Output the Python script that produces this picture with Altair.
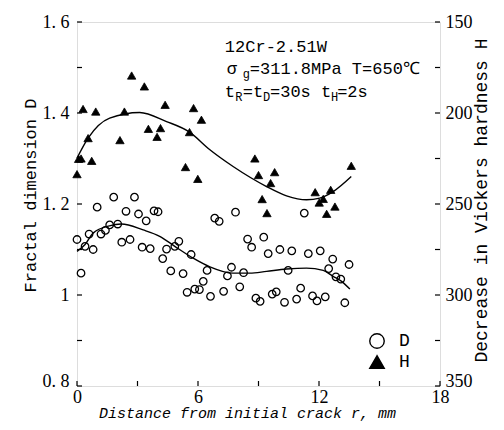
import altair as alt
import pandas as pd

# ---------------- data ----------------
# Fractal dimension D (circles): distance r [mm], value
d_r = [0.0, 0.2, 0.4, 0.6, 0.8, 1.0, 1.19, 1.41, 1.62, 1.82, 2.02, 2.22, 2.43, 2.63, 2.85,
       3.05, 3.23, 3.43, 3.63, 3.82, 4.02, 4.25, 4.44, 4.65, 4.85, 5.05, 5.26, 5.46, 5.66,
       5.84, 6.07, 6.26, 6.45, 6.62, 6.83, 7.05, 7.27, 7.46, 7.66, 7.86, 8.07, 8.26, 8.46,
       8.66, 8.87, 9.08, 9.26, 9.48, 9.68, 9.88, 10.06, 10.29, 10.47, 10.65, 10.89, 11.09,
       11.27, 11.47, 11.68, 11.9, 12.06, 12.31, 12.48, 12.68, 12.84, 13.08, 13.28, 13.49]
d_val = [1.122, 1.048, 1.107, 1.134, 1.100, 1.193, 1.134, 1.142, 1.154, 1.215, 1.156, 1.116,
         1.184, 1.122, 1.215, 1.178, 1.105, 1.163, 1.102, 1.185, 1.183, 1.080, 1.101, 1.053,
         1.107, 1.118, 1.047, 1.006, 1.089, 1.013, 1.012, 1.030, 1.054, 0.997, 1.169, 1.162,
         1.008, 1.042, 1.061, 1.182, 1.018, 1.049, 1.123, 1.105, 0.993, 0.986, 1.127, 1.091,
         1.002, 1.007, 1.100, 0.984, 1.054, 1.097, 0.991, 1.015, 1.180, 1.091, 0.998, 0.987,
         1.097, 0.996, 1.058, 1.079, 1.040, 1.035, 0.983, 1.067]

# Decrease in Vickers hardness H (triangles)
h_r = [0.0, 0.08, 0.2, 0.3, 0.55, 0.73, 0.93, 2.13, 2.35, 2.71, 3.34, 3.54, 3.97, 4.14, 4.37,
       5.38, 5.58, 5.78, 5.99, 6.17, 8.82, 9.0, 9.18, 9.42, 9.6, 9.8, 11.81, 12.01, 12.21,
       12.38, 12.58, 12.79, 13.6]
h_val = [233.6, 225.2, 225.0, 197.8, 213.8, 226.3, 199.2, 214.9, 199.2, 179.4, 185.4, 208.7,
         213.1, 208.3, 195.5, 229.7, 210.5, 197.3, 236.2, 203.7, 225.0, 234.1, 247.3, 255.0,
         238.5, 232.5, 243.5, 249.2, 247.2, 255.4, 242.2, 251.4, 229.0]

# fitted curves
d_fit_r = [0.0, 0.4, 0.8, 1.6, 2.2, 3.28, 4.1, 4.85, 5.76, 6.59, 7.74, 8.57, 9.4, 10.39,
           11.38, 12.21, 12.7, 13.12, 13.53]
d_fit_val = [1.096, 1.111, 1.136, 1.152, 1.156, 1.143, 1.129, 1.107, 1.081, 1.062, 1.048,
             1.048, 1.052, 1.057, 1.059, 1.054, 1.041, 1.030, 1.013]
h_fit_r = [0.0, 0.55, 1.62, 3.11, 4.44, 5.58, 6.59, 7.74, 9.4, 10.39, 11.38, 12.04, 12.7, 13.6]
h_fit_val = [224.8, 213.8, 202.8, 199.7, 204.7, 210.5, 220.2, 229.4, 240.4, 245.5, 247.7,
             246.8, 243.2, 234.9]

# tick values
x_ticks = [0, 3, 6, 9, 12, 15, 18]
d_ticks = [0.8, 0.9, 1.0, 1.1, 1.2, 1.3, 1.4, 1.5, 1.6]
h_ticks = [150, 175, 200, 225, 250, 275, 300, 325, 350]

# annotation (placed in data units: r [mm], D)
ann_text = ["12Cr-2.51W", "σ", "g", "=311.8MPa T=650℃", "t", "R", "=t", "D", "=30s t", "H", "=2s"]
ann_r = [7.33, 7.43, 8.22, 8.57, 7.33, 7.85, 8.22, 9.22, 9.57, 12.6, 12.9]
ann_d = [1.5457, 1.4974, 1.4864, 1.4974, 1.4468, 1.4358, 1.4468, 1.4358, 1.4468, 1.4358, 1.4468]
ann_size = [17, 17, 12, 17, 17, 12, 17, 12, 17, 12, 17]

# ---------------- tables ----------------
df_d = pd.DataFrame({"r": d_r, "val": d_val, "series": "D"})
df_h = pd.DataFrame({"r": h_r, "val": h_val, "series": "H"})
df_dfit = pd.DataFrame({"r": d_fit_r, "val": d_fit_val})
df_hfit = pd.DataFrame({"r": h_fit_r, "val": h_fit_val})
df_ann = pd.DataFrame({"r": ann_r, "val": ann_d, "t": ann_text, "sz": ann_size})
df_xt = pd.DataFrame({"r": x_ticks})
df_dt = pd.DataFrame({"val": d_ticks})
df_ht = pd.DataFrame({"val": h_ticks})

W, H = 363, 364
TL = 5  # inward tick length

x_scale = alt.Scale(domain=[0, 18], nice=False, zero=False)
d_scale = alt.Scale(domain=[0.8, 1.6], nice=False, zero=False)
h_scale = alt.Scale(domain=[150, 350], nice=False, zero=False, reverse=True)

common_axis = dict(
    domain=False, ticks=False, tickSize=0, grid=False, labelColor="black", titleColor="black",
    labelFont="Liberation Serif", labelFontSize=18, titleFont="Liberation Mono",
    titleFontWeight="normal", labelFlush=False, labelOverlap=False,
)

x_axis = alt.Axis(
    values=x_ticks, labelExpr="datum.value % 6 == 0 ? datum.label : ''",
    title="Distance from initial crack r, mm", titleFontSize=15, titleFontStyle="italic",
    titleX=170, titleY=26, titleBaseline="middle", titleAlign="center",
    labelPadding=2, labelBaseline="top", **common_axis)

left_axis = alt.Axis(
    values=d_ticks,
    labelExpr="round(datum.value*10) % 2 == 0 ? (abs(datum.value-1) < 1e-6 ? '1' : replace(format(datum.value, '.1f'), '.', '. ')) : ''",
    labelBaseline={"condition": {"test": "datum.value < 0.85", "value": "alphabetic"}, "value": "middle"},
    title="Fractal dimension D", titleFontSize=17, titleX=-47, titleY=173,
    titleBaseline="middle", titleAlign="center", titleAngle=270,
    labelPadding=8, **common_axis)

right_axis = alt.Axis(
    orient="right", values=h_ticks,
    labelExpr="datum.value % 50 == 0 ? datum.label : ''",
    labelBaseline={"condition": {"test": "datum.value > 340", "value": "alphabetic"}, "value": "middle"},
    title="Decrease in Vickers hardness H", titleFontSize=18, titleX=41, titleY=178,
    titleBaseline="middle", titleAlign="center", titleAngle=270,
    labelPadding=5, **common_axis)

legend = alt.Legend(
    title=None, orient="none", legendX=291, legendY=310, symbolSize=210,
    symbolStrokeWidth=1.4, labelFont="Liberation Mono",
    labelFontSize=18, labelColor="black", labelOffset=13, rowPadding=0, padding=0)

dom = ["D", "H"]
shape_enc = alt.Shape("series:N", scale=alt.Scale(domain=dom, range=["circle", "triangle-up"]), legend=legend)
fill_enc = alt.Fill("series:N", scale=alt.Scale(domain=dom, range=["transparent", "black"]), legend=legend)
stroke_enc = alt.Stroke("series:N", scale=alt.Scale(domain=dom, range=["black", "black"]), legend=legend)

X = alt.X("r:Q", scale=x_scale, axis=x_axis)
YD = alt.Y("val:Q", scale=d_scale, axis=left_axis)
YH = alt.Y("val:Q", scale=h_scale, axis=right_axis)

circles = alt.Chart(df_d).mark_point(filled=True, strokeWidth=1.3, size=56, opacity=1).encode(
    x=X, y=YD, shape=shape_enc, fill=fill_enc, stroke=stroke_enc)
d_line = alt.Chart(df_dfit).mark_line(color="black", strokeWidth=1.4, interpolate="monotone").encode(x=X, y=YD)
ann = alt.Chart(df_ann).mark_text(align="left", baseline="middle", font="Liberation Mono", color="black").encode(
    x=X, y=YD, text="t:N", size=alt.Size("sz:Q", scale=None))
left_ticks = alt.Chart(df_dt).mark_rule(color="black", strokeWidth=1.2).encode(
    y=YD, x=alt.value(0), x2=alt.value(TL))
bottom_ticks = alt.Chart(df_xt).mark_rule(color="black", strokeWidth=1.2).encode(
    x=X, y=alt.value(H), y2=alt.value(H - TL))

triangles = alt.Chart(df_h).mark_point(filled=True, strokeWidth=0.8, size=70, opacity=1).encode(
    x=X, y=YH, shape=shape_enc, fill=fill_enc, stroke=stroke_enc)
h_line = alt.Chart(df_hfit).mark_line(color="black", strokeWidth=1.4, interpolate="monotone").encode(x=X, y=YH)
right_ticks = alt.Chart(df_ht).mark_rule(color="black", strokeWidth=1.2).encode(
    y=YH, x=alt.value(W - TL), x2=alt.value(W))

d_layer = alt.layer(circles, d_line, ann, left_ticks, bottom_ticks)
h_layer = alt.layer(triangles, h_line, right_ticks)

chart = alt.layer(d_layer, h_layer).resolve_scale(y="independent").properties(
    width=W, height=H,
    autosize=alt.AutoSizeParams(type="none"),
    padding={"left": 69, "top": 14, "right": 55, "bottom": 36},
).configure_view(stroke="black", strokeWidth=1.5).configure(background="white")

chart.save("out.html", embed_options={"renderer": "svg", "actions": False})
